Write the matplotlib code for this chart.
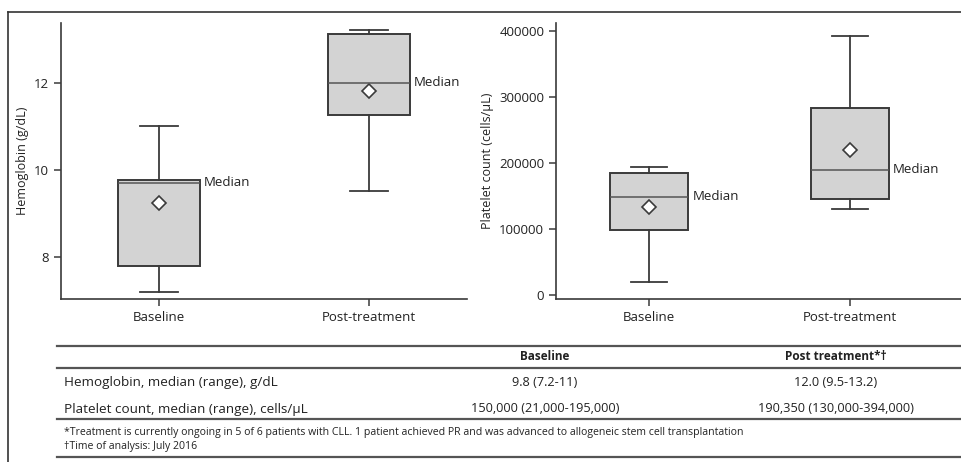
import matplotlib.pyplot as plt
from matplotlib.lines import Line2D

plt.rcParams["font.family"] = ["Open Sans", "DejaVu Sans"]

groups = ["Baseline", "Post-treatment"]

# hemoglobin (g/dL)
hb_low = [7.20, 9.51]
hb_q1 = [7.80, 11.26]
hb_med = [9.71, 12.00]
hb_q3 = [9.76, 13.13]
hb_high = [11.00, 13.22]
hb_mean = [9.23, 11.82]

# platelet count (cells/uL)
plt_low = [19600, 130000]
plt_q1 = [98600, 145000]
plt_med = [149000, 190300]
plt_q3 = [184300, 283400]
plt_high = [193800, 392700]
plt_mean = [133400, 219500]

table_cols = ["Baseline", "Post treatment*\u2020"]
table_rows = ["Hemoglobin, median (range), g/dL",
              "Platelet count, median (range), cells/\u00b5L"]
table_vals = [["9.8 (7.2-11)", "12.0 (9.5-13.2)"],
              ["150,000 (21,000-195,000)", "190,350 (130,000-394,000)"]]
footnotes = ["*Treatment is currently ongoing in 5 of 6 patients with CLL. 1 patient achieved PR "
             "and was advanced to allogeneic stem cell transplantation",
             "\u2020Time of analysis: July 2016"]

W, H = 962, 462
edge = "#3a3a3a"
txt = "#222222"
fig = plt.figure(figsize=(W / 100, H / 100), dpi=100)


def fx(px):
    return px / W


def fy(py):
    return 1 - py / H


def draw_box(ax, low, q1, med, q3, high, mean, ylabel):
    stats = []
    for i in range(len(groups)):
        stats.append(dict(whislo=low[i], q1=q1[i], med=med[i], q3=q3[i],
                          whishi=high[i], label=groups[i]))
    ax.bxp(stats, positions=[0, 1], widths=0.39, showfliers=False, patch_artist=True,
           boxprops=dict(facecolor="#d3d3d3", edgecolor=edge, linewidth=1.4),
           medianprops=dict(color="#555555", linewidth=1.1),
           whiskerprops=dict(color=edge, linewidth=1.3),
           capprops=dict(color=edge, linewidth=1.3), capwidths=0.18)
    ax.plot([0, 1], mean, linestyle="none", marker="D", markersize=7,
            markerfacecolor="white", markeredgecolor=edge, markeredgewidth=1.2)
    for i in range(len(groups)):
        ax.text(i + 0.215, med[i], "Median", fontsize=9.5, color=txt, va="center", ha="left")
    ax.spines["top"].set_visible(False)
    ax.spines["right"].set_visible(False)
    for s in ["left", "bottom"]:
        ax.spines[s].set_color(edge)
        ax.spines[s].set_linewidth(1.2)
    ax.tick_params(colors=edge, labelcolor=txt, labelsize=9.5, length=5, width=1.1)
    ax.set_ylabel(ylabel, fontsize=9, color=txt, labelpad=4)


ax1 = fig.add_axes([fx(61), fy(299), fx(467 - 61), (299 - 23) / H])
draw_box(ax1, hb_low, hb_q1, hb_med, hb_q3, hb_high, hb_mean, "Hemoglobin (g/dL)")
ax1.set_xlim(-0.467, 1.467)
ax1.set_ylim(7.03, 13.38)
ax1.set_yticks([8, 10, 12])

ax2 = fig.add_axes([fx(556), fy(299), fx(962 - 556), (299 - 23) / H])
draw_box(ax2, plt_low, plt_q1, plt_med, plt_q3, plt_high, plt_mean, "Platelet count (cells/\u00b5L)")
ax2.set_xlim(-0.465, 1.56)
ax2.set_ylim(-5600, 412000)
ax2.set_yticks([0, 100000, 200000, 300000, 400000])
ax2.set_yticklabels(["0", "100000", "200000", "300000", "400000"])

# outer frame (left and top only)
fig.add_artist(Line2D([fx(8), fx(8)], [fy(12), 0], color="#333333", linewidth=1.2))
fig.add_artist(Line2D([fx(8), 1], [fy(12), fy(12)], color="#333333", linewidth=1.2))

# table
for y in [346, 368, 419, 456.5]:
    fig.add_artist(Line2D([fx(57), 1], [fy(y), fy(y)], color="#555555", linewidth=1.6))

col_x = [545, 836]
for j, c in enumerate(table_cols):
    fig.text(fx(col_x[j]), fy(357), c, fontsize=8.5, fontweight="bold", color=txt,
             ha="center", va="center")
row_y = [382.5, 409]
for i, r in enumerate(table_rows):
    fig.text(fx(64), fy(row_y[i]), r, fontsize=9.7, color=txt, ha="left", va="center")
    for j in range(len(table_cols)):
        fig.text(fx(col_x[j]), fy(row_y[i]), table_vals[i][j], fontsize=9.2, color=txt,
                 ha="center", va="center")
for k, f in enumerate(footnotes):
    fig.text(fx(64), fy(433 + k * 13.5), f, fontsize=7.6, color=txt, ha="left", va="center")

fig.savefig("out.png", dpi=100)
